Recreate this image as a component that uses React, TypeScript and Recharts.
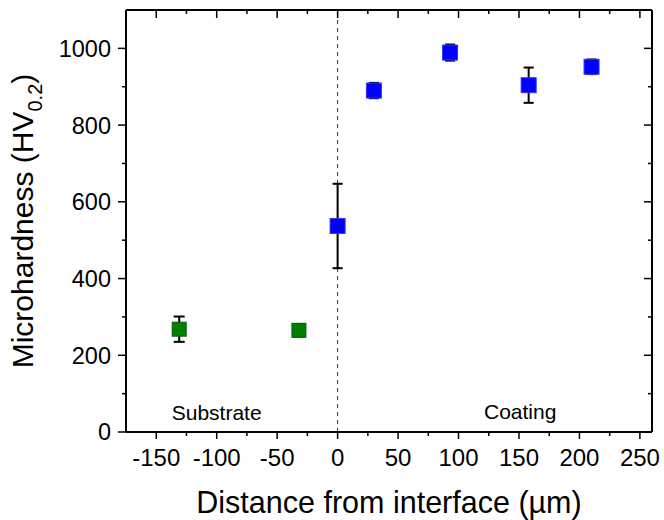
import React from 'react';
import {
  ScatterChart,
  Scatter,
  XAxis,
  YAxis,
  ErrorBar,
  ReferenceLine,
  ReferenceDot,
} from 'recharts';

const substrate = [
  { x: -131, y: 268, err: 33 },
  { x: -32, y: 265, err: 16 },
];

const coating = [
  { x: 0, y: 537, err: 110 },
  { x: 30, y: 890, err: 20 },
  { x: 93, y: 989, err: 21 },
  { x: 158, y: 904, err: 46 },
  { x: 210, y: 952, err: 19 },
];

const xTicks = [-150, -125, -100, -75, -50, -25, 0, 25, 50, 75, 100, 125, 150, 175, 200, 225, 250];
const yTicks = [0, 100, 200, 300, 400, 500, 600, 700, 800, 900, 1000];

const FONT = "Arial, 'Liberation Sans', sans-serif";

const BottomTick = (props: any) => {
  const { x, y, payload } = props;
  const major = payload.value % 50 === 0;
  return (
    <g>
      <line x1={x} y1={y} x2={x} y2={y + (major ? 7 : 4)} stroke="#000" strokeWidth={1.5} />
      {major && (
        <text x={x} y={y + 34} textAnchor="middle" fontSize={24} fontFamily={FONT} fill="#000">
          {payload.value}
        </text>
      )}
    </g>
  );
};

const TopTick = (props: any) => {
  const { x, y, payload } = props;
  const major = payload.value % 50 === 0;
  return <line x1={x} y1={y} x2={x} y2={y + (major ? 8 : 4)} stroke="#000" strokeWidth={1.5} />;
};

const LeftTick = (props: any) => {
  const { x, y, payload } = props;
  const major = payload.value % 200 === 0;
  return (
    <g>
      <line x1={x - (major ? 8 : 4)} y1={y} x2={x} y2={y} stroke="#000" strokeWidth={1.5} />
      {major && (
        <text x={x - 15} y={y} dy="0.36em" textAnchor="end" fontSize={23.5} fontFamily={FONT} fill="#000">
          {payload.value}
        </text>
      )}
    </g>
  );
};

const RightTick = (props: any) => {
  const { x, y, payload } = props;
  const major = payload.value % 200 === 0;
  return <line x1={x - (major ? 8 : 4)} y1={y} x2={x} y2={y} stroke="#000" strokeWidth={1.5} />;
};

const YTitle = (props: any) => {
  const vb = props.viewBox || { y: 10, height: 422 };
  const cy = vb.y + vb.height / 2;
  return (
    <text
      x={33}
      y={cy}
      transform={`rotate(-90, 33, ${cy})`}
      textAnchor="middle"
      fontSize={30}
      fontFamily={FONT}
      fill="#000"
    >
      Microhardness (HV
      <tspan fontSize={20} dy={9}>0.2</tspan>
      <tspan dy={-9}>)</tspan>
    </text>
  );
};

const greenSquare = (p: any) => (
  <rect x={p.cx - 7} y={p.cy - 7} width={14} height={14} fill="#008000" stroke="#0a5a0a" strokeWidth={1} />
);

const blueSquare = (p: any) => (
  <rect x={p.cx - 7.5} y={p.cy - 7.5} width={15} height={15} fill="#0000ff" stroke="#3333ff" strokeWidth={1} />
);

const noShape = () => <g />;

export default function App() {
  return (
    <div style={{ position: 'absolute', left: 0, top: 0, background: '#fff' }}>
      <ScatterChart
        width={664}
        height={520}
        margin={{ top: 9, right: 11, left: 0, bottom: 0 }}
        style={{ fontFamily: FONT }}
      >
        <XAxis
          dataKey="x"
          type="number"
          domain={[-175, 260]}
          ticks={xTicks}
          interval={0}
          allowDataOverflow
          height={88}
          tickSize={0}
          tickMargin={0}
          tickLine={false}
          tick={<BottomTick />}
          axisLine={{ stroke: '#000', strokeWidth: 2 }}
          label={{
            value: 'Distance from interface (µm)',
            position: 'insideBottom',
            offset: 7,
            fontSize: 30.5,
            fill: '#000',
            fontFamily: FONT,
          }}
        />
        <XAxis
          xAxisId="top"
          dataKey="x"
          orientation="top"
          type="number"
          domain={[-175, 260]}
          ticks={xTicks}
          interval={0}
          allowDataOverflow
          height={1}
          tickSize={0}
          tickMargin={0}
          tickLine={false}
          tick={<TopTick />}
          axisLine={{ stroke: '#000', strokeWidth: 2 }}
        />
        <YAxis
          dataKey="y"
          type="number"
          domain={[0, 1100]}
          ticks={yTicks}
          interval={0}
          allowDataOverflow
          width={126}
          tickSize={0}
          tickMargin={0}
          tickLine={false}
          tick={<LeftTick />}
          axisLine={{ stroke: '#000', strokeWidth: 2 }}
          label={{ content: YTitle }}
        />
        <YAxis
          yAxisId="right"
          dataKey="y"
          orientation="right"
          type="number"
          domain={[0, 1100]}
          ticks={yTicks}
          interval={0}
          allowDataOverflow
          width={1}
          tickSize={0}
          tickMargin={0}
          tickLine={false}
          tick={<RightTick />}
          axisLine={{ stroke: '#000', strokeWidth: 2 }}
        />
        <ReferenceLine x={0} stroke="#333" strokeWidth={1} strokeDasharray="4 4" />
        <ReferenceDot
          x={-100}
          y={52}
          r={0}
          fill="none"
          stroke="none"
          label={{ value: 'Substrate', position: 'center', fontSize: 21, fill: '#000', fontFamily: FONT }}
        />
        <ReferenceDot
          x={151}
          y={54}
          r={0}
          fill="none"
          stroke="none"
          label={{ value: 'Coating', position: 'center', fontSize: 21, fill: '#000', fontFamily: FONT }}
        />
        <Scatter
          data={coating}
          xAxisId="top"
          yAxisId="right"
          shape={noShape}
          isAnimationActive={false}
        />
        <Scatter data={substrate} shape={greenSquare} isAnimationActive={false}>
          <ErrorBar dataKey="err" direction="y" width={5.5} stroke="#000" strokeWidth={2} isAnimationActive={false} />
        </Scatter>
        <Scatter data={coating} shape={blueSquare} isAnimationActive={false}>
          <ErrorBar dataKey="err" direction="y" width={5} stroke="#000" strokeWidth={2} isAnimationActive={false} />
        </Scatter>
      </ScatterChart>
    </div>
  );
}
